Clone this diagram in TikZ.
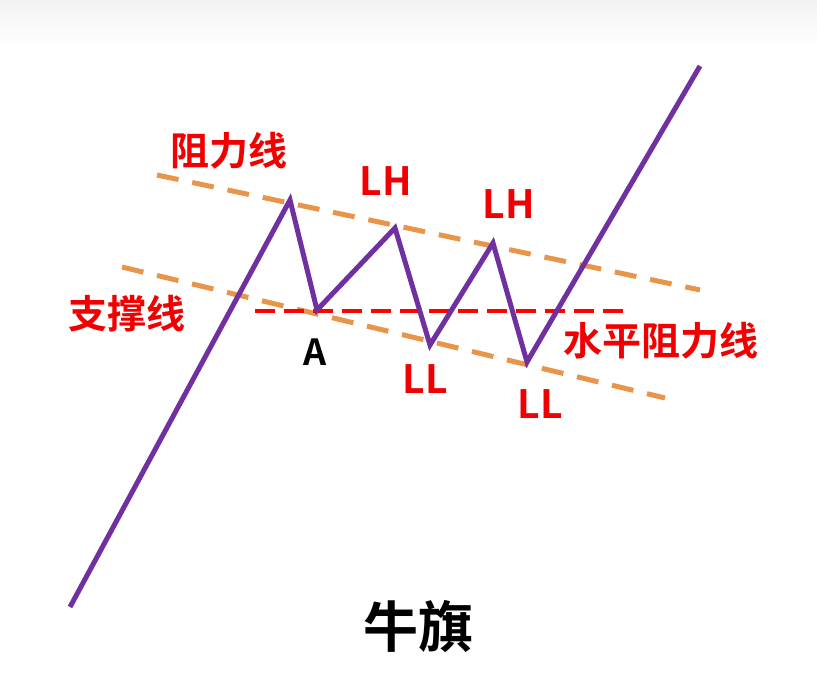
\documentclass[tikz,border=0pt]{standalone}
\usepackage{fontspec}
\newfontfamily\cjk{Noto Sans CJK SC Bold}
\definecolor{trendpurple}{HTML}{7030A0}
\definecolor{chanorange}{HTML}{E8954A}
\definecolor{lblred}{HTML}{F00000}
\begin{document}
\begin{tikzpicture}[x=1pt,y=-1pt,
  pline/.style={draw=trendpurple,line width=5pt,line join=miter},
  chan/.style={draw=chanorange,line width=5pt,dash pattern=on 22pt off 14pt},
  hres/.style={draw=red,line width=4.5pt,dash pattern=on 20pt off 9pt},
  redlbl/.style={font=\cjk\fontsize{39}{42}\selectfont,text=lblred,inner sep=0pt},
  blklbl/.style={font=\cjk\fontsize{36}{40}\selectfont,text=black,inner sep=0pt}]
\useasboundingbox (0,0) rectangle (817,693);
\fill[white] (0,0) rectangle (817,693);
\shade[top color=black!5,bottom color=white] (0,0) rectangle (817,45);
% channel lines
\coordinate (u1) at (157,175); \coordinate (u2) at (700,290);
\coordinate (l1) at (122,267); \coordinate (l2) at (665,398);
\coordinate (h1) at (255,311); \coordinate (h2) at (632,311);
\draw[chan] (u1) -- (u2);
\draw[chan] (l1) -- (l2);
\draw[hres] (h1) -- (h2);
% price path
\coordinate (p0) at (70,607);
\coordinate (p1) at (290,200);
\coordinate (p2) at (317,310);
\coordinate (p3) at (395,228);
\coordinate (p4) at (430,345);
\coordinate (p5) at (493,243);
\coordinate (p6) at (527,362);
\coordinate (p7) at (700,66);
\draw[pline] (p0) -- (p1) -- (p2) -- (p3) -- (p4) -- (p5) -- (p6) -- (p7);
% labels
\node[redlbl] (res) at (229,151) {阻力线};
\node[redlbl] (lh1) at (386,181) {LH};
\node[redlbl] (lh2) at (509,204) {LH};
\node[redlbl] (sup) at (127,314) {支撑线};
\node[blklbl] (a) at (315,352) {A};
\node[redlbl] (ll1) at (425,379) {LL};
\node[redlbl] (ll2) at (540,404) {LL};
\node[redlbl] (hr) at (661,341) {水平阻力线};
\node[font=\cjk\fontsize{55}{60}\selectfont,inner sep=0pt] (title) at (418,627) {牛旗};
\end{tikzpicture}
\end{document}
